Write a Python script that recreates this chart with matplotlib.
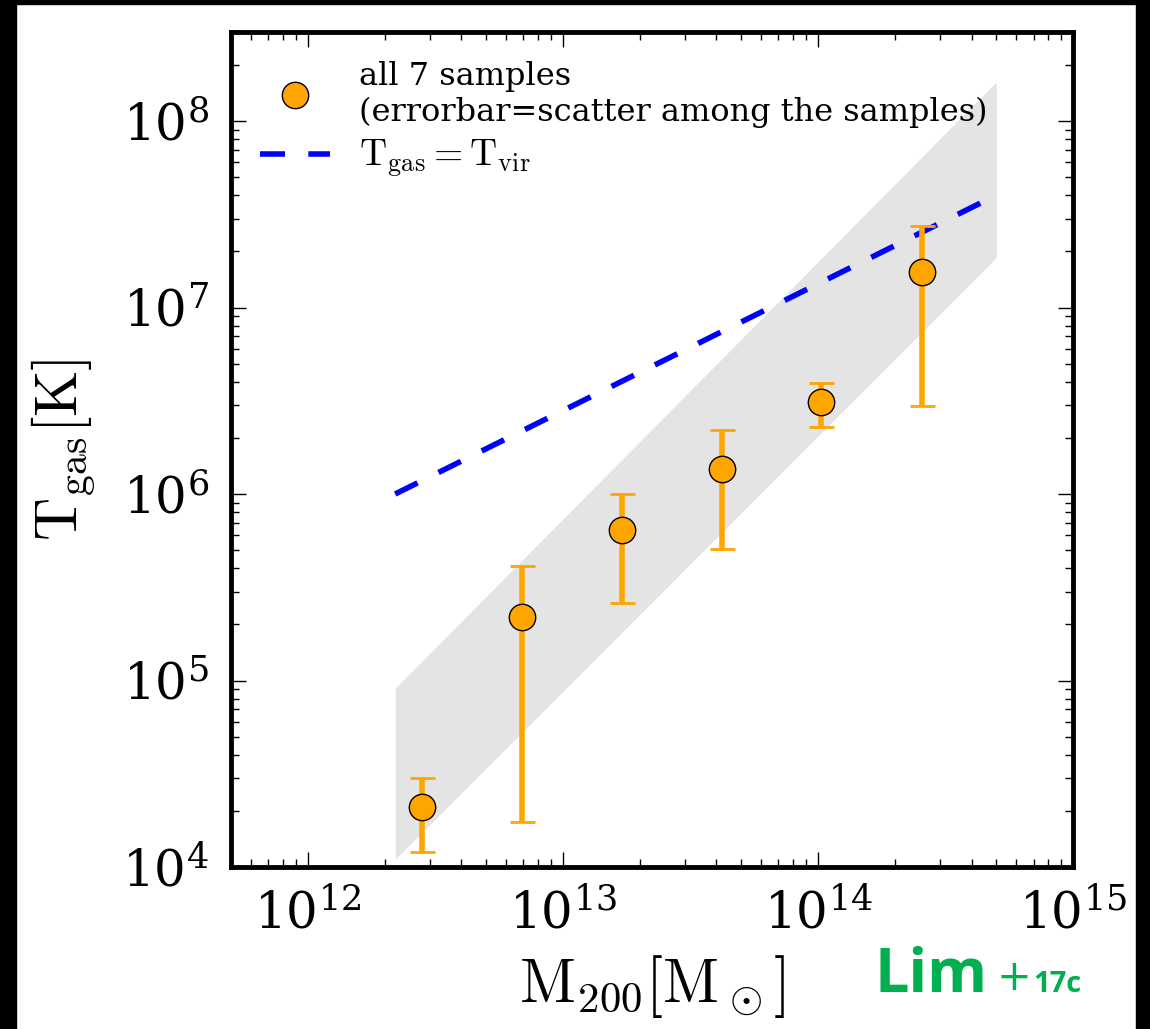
import matplotlib
matplotlib.use("Agg")
import matplotlib.pyplot as plt
from matplotlib.patches import Rectangle
import numpy as np

# halo mass bins and gas temperature (median + scatter among samples)
mass = [2.8e12, 6.9e12, 1.7e13, 4.2e13, 1.03e14, 2.55e14]
tgas = [2.1e4, 2.2e5, 6.4e5, 1.37e6, 3.1e6, 1.55e7]
tgas_hi = [3.0e4, 4.1e5, 1.0e6, 2.2e6, 3.95e6, 2.75e7]
tgas_lo = [1.2e4, 1.75e4, 2.6e5, 5.1e5, 2.3e6, 2.95e6]

# virial temperature line
vir_mass = [2.2e12, 5.0e14]
vir_temp = [1.0e6, 4.0e7]

# grey band
band_mass = [2.2e12, 5.0e14]
band_lo = [1.1e4, 1.85e7]
band_hi = [9.1e4, 1.62e8]

plt.rcParams['font.family'] = 'DejaVu Serif'
plt.rcParams['mathtext.fontset'] = 'cm'

fig = plt.figure(figsize=(11.5, 10.29), dpi=100)
ax = fig.add_axes([0.2009, 0.1574, 0.7322, 0.8115])

ax.fill_between(band_mass, band_lo, band_hi, color='#e4e4e4', lw=0, zorder=1)

ax.plot(vir_mass, vir_temp, color='blue', lw=4, dashes=[4.5, 4.2],
        label=r'$\mathrm{T_{gas}=T_{vir}}$', zorder=2)

y = np.array(tgas)
yerr = [y - np.array(tgas_lo), np.array(tgas_hi) - y]
ax.errorbar(mass, tgas, yerr=yerr, fmt='none', ecolor='orange', elinewidth=4,
            capsize=9, capthick=2, zorder=3)
ax.plot(mass, tgas, 'o', color='orange', mec='black', mew=1, ms=19, zorder=4,
        label='all 7 samples\n(errorbar=scatter among the samples)')

ax.set_xscale('log')
ax.set_yscale('log')
ax.set_xlim(5e11, 1e15)
ax.set_ylim(1e4, 3e8)

ax.set_xlabel(r'$\mathrm{M_{200}[M_\odot]}$', fontsize=44, labelpad=10)
ax.set_ylabel(r'$\mathrm{T_{gas}[K]}$', fontsize=43, labelpad=18)

ax.tick_params(which='both', direction='in', top=True, right=True, width=1)
ax.tick_params(which='major', length=11, labelsize=36, pad=16)
ax.tick_params(which='minor', length=6)
for s in ax.spines.values():
    s.set_linewidth(3.5)

h, l = ax.get_legend_handles_labels()
leg = ax.legend(h[::-1], l[::-1], loc='upper left', frameon=False,
                prop={'family': 'DejaVu Serif', 'size': 23},
                handlelength=2.2, borderpad=0.3, borderaxespad=0.6,
                labelspacing=0.3, handletextpad=0.9)
leg.get_texts()[1].set_fontsize(27)

fig.text(875 / 1150, 1 - 992 / 1029, 'Lim', color='#00b050', fontsize=44,
         fontweight='bold', family='Open Sans', va='baseline')
fig.text(997 / 1150, 1 - 990 / 1029, '+', color='#00b050', fontsize=30,
         family='DejaVu Sans', va='baseline')
fig.text(1033 / 1150, 1 - 992 / 1029, '17c', color='#00b050', fontsize=21,
         fontweight='bold', family='Open Sans', va='baseline')

# black frame of the screenshot
fig.patches.append(Rectangle((0, 0), 0.014, 1, transform=fig.transFigure,
                             color='black', zorder=10))
fig.patches.append(Rectangle((0, 0.996), 1, 0.004, transform=fig.transFigure,
                             color='black', zorder=10))
fig.patches.append(Rectangle((0.988, 0), 0.012, 1, transform=fig.transFigure,
                             color='black', zorder=10))

fig.savefig('out.png', dpi=100)
